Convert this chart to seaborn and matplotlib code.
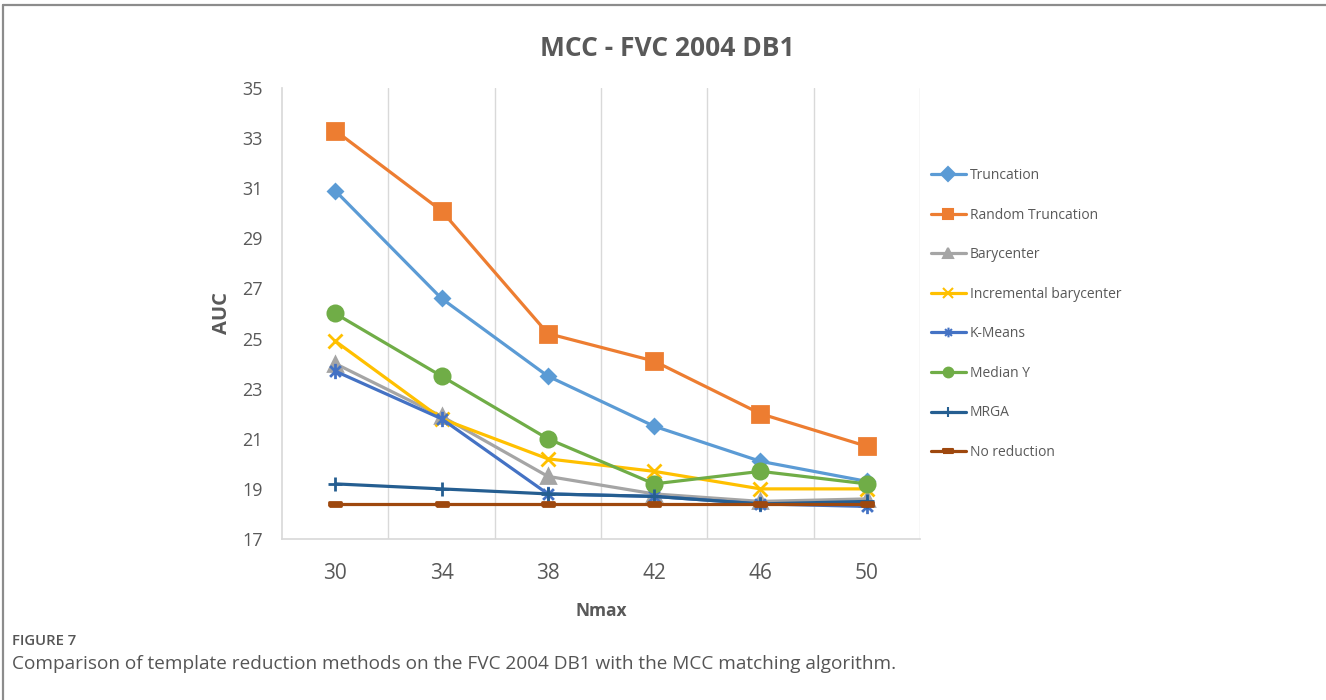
import matplotlib
matplotlib.use("Agg")
import matplotlib.pyplot as plt
import numpy as np
import pandas as pd
import seaborn as sns
from matplotlib.path import Path

# Template sizes (Nmax) on the x axis
nmax = [30, 34, 38, 42, 46, 50]

# AUC per reduction method
truncation = [30.9, 26.6, 23.5, 21.5, 20.1, 19.3]
random_truncation = [33.3, 30.1, 25.2, 24.1, 22.0, 20.7]
barycenter = [24.0, 21.9, 19.5, 18.8, 18.5, 18.6]
incremental_barycenter = [24.9, 21.8, 20.2, 19.7, 19.0, 19.0]
k_means = [23.7, 21.8, 18.8, 18.7, 18.4, 18.3]
median_y = [26.0, 23.5, 21.0, 19.2, 19.7, 19.2]
mrga = [19.2, 19.0, 18.8, 18.7, 18.4, 18.5]
no_reduction = [18.4, 18.4, 18.4, 18.4, 18.4, 18.4]

y_ticks = [17, 19, 21, 23, 25, 27, 29, 31, 33, 35]

# Asterisk marker: an "x" crossed by a vertical stroke
d = 0.7071
asterisk = Path(
    [(-d, -d), (d, d), (-d, d), (d, -d), (0, -1), (0, 1)],
    [Path.MOVETO, Path.LINETO, Path.MOVETO, Path.LINETO, Path.MOVETO, Path.LINETO],
)
# Short flat bar marker
dash = Path([(-1, -0.35), (1, -0.35), (1, 0.35), (-1, 0.35), (-1, -0.35)])

series = [
    ("Truncation", truncation, "#5B9BD5", "D", 7),
    ("Random Truncation", random_truncation, "#ED7D31", "s", 11),
    ("Barycenter", barycenter, "#A5A5A5", "^", 10),
    ("Incremental barycenter", incremental_barycenter, "#FFC000", "x", 10),
    ("K-Means", k_means, "#4472C4", asterisk, 11),
    ("Median Y", median_y, "#70AD47", "o", 11),
    ("MRGA", mrga, "#255E91", "+", 10),
    ("No reduction", no_reduction, "#9E480E", dash, 8),
]

sns.set_theme(style="white")
plt.rcParams["font.family"] = ["Open Sans", "DejaVu Sans"]

text_color = "#595959"
fig = plt.figure(figsize=(13.26, 7.0), dpi=100)
ax = fig.add_axes([0.2127, 0.23, 0.4811, 0.6443])

for name, values, color, marker, ms in series:
    df = pd.DataFrame({"Nmax": nmax, "AUC": values})
    face = "none" if marker is asterisk else color
    sns.lineplot(
        data=df, x="Nmax", y="AUC", ax=ax, color=color, label=name,
        marker=marker, markersize=ms, markeredgecolor=color,
        markerfacecolor=face, markeredgewidth=2.0, linewidth=2.3,
    )

ax.set_xlim(28, 52)
ax.set_ylim(17, 35)
ax.set_xticks(nmax)
ax.set_xticklabels([str(v) for v in nmax])
ax.set_yticks(y_ticks)
ax.set_yticklabels([str(v) for v in y_ticks])
ax.tick_params(axis="x", labelsize=15, colors=text_color, length=0, pad=17)
ax.tick_params(axis="y", labelsize=13, colors=text_color, length=0, pad=14)

# Vertical separators between categories
for xb in [32, 36, 40, 44, 48, 52]:
    ax.axvline(xb, color="#D9D9D9", linewidth=1.0, zorder=0)
for side in ["top", "right"]:
    ax.spines[side].set_visible(False)
ax.spines["left"].set_color("#D9D9D9")
ax.spines["bottom"].set_color("#D9D9D9")
ax.grid(False)

ax.set_xlabel("Nmax", fontsize=12.5, fontweight="bold", color=text_color, labelpad=13)
ax.set_ylabel("AUC", fontsize=14.5, fontweight="bold", color=text_color, labelpad=7)

fig.text(0.503, 0.930, "MCC - FVC 2004 DB1", ha="center", va="center",
         fontsize=19, fontweight="bold", color=text_color)

leg = ax.legend(
    loc="upper left", bbox_to_anchor=(0.698, 0.768), bbox_transform=fig.transFigure,
    frameon=False, fontsize=10, labelspacing=1.77, handlelength=2.5,
    handletextpad=0.3, borderaxespad=0,
)
for t in leg.get_texts():
    t.set_color(text_color)
for h in leg.legend_handles:
    h.set_markersize(7)
    h.set_markeredgewidth(1.5)

# Caption
fig.text(0.009, 0.084, "FIGURE 7", fontsize=10.7, color="#555555", fontweight="semibold",
         va="center")
fig.text(0.009, 0.052,
         "Comparison of template reduction methods on the FVC 2004 DB1 with the MCC matching algorithm.",
         fontsize=13.7, color="#555555", va="center")

# Frame along the top and left edges
fig.add_artist(plt.Line2D([0.0025, 1.0], [0.9925, 0.9925], transform=fig.transFigure,
                          color="#8C8C8C", linewidth=1.6))
fig.add_artist(plt.Line2D([0.0025, 0.0025], [0.0, 0.9925], transform=fig.transFigure,
                          color="#8C8C8C", linewidth=1.6))

fig.savefig("out.png", dpi=100, facecolor="white")
